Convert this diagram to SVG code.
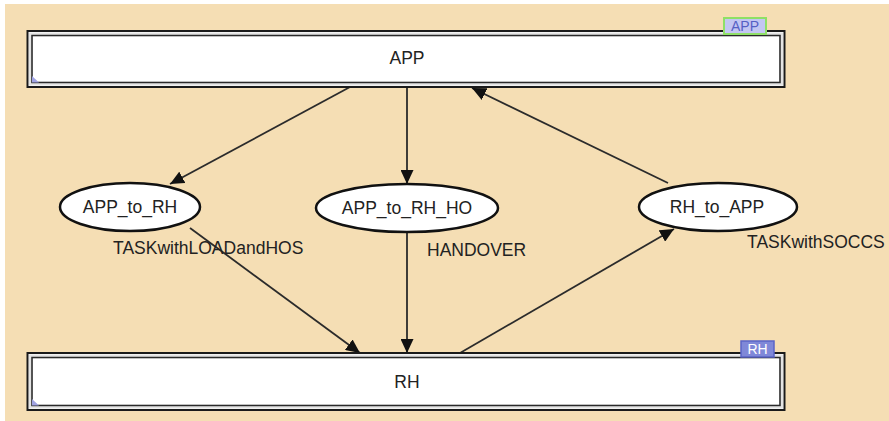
<svg xmlns="http://www.w3.org/2000/svg" width="889" height="421" viewBox="0 0 889 421">
  <style>
    .bg { fill: #F5DEB4; }
    .outer { fill: #ffffff; stroke: #1a1a1a; stroke-width: 2; }
    .gap { fill: none; stroke: #e4e4e4; stroke-width: 2; }
    .inner { fill: #ffffff; stroke: #2a2a2a; stroke-width: 1.6; }
    .corner { fill: #9fa2e2; }
    .place { fill: #ffffff; stroke: #111111; stroke-width: 2.5; }
    .txt { font-family: "Liberation Sans", Arial, sans-serif; font-size: 17.5px; fill: #222222; }
    .mid { text-anchor: middle; }
    .edge { fill: none; stroke: #2b2b2b; stroke-width: 1.8; marker-end: url(#arrow); }
    .tagtxt { font-family: "Liberation Sans", Arial, sans-serif; font-size: 14px; text-anchor: middle; }
  </style>
  <defs>
    <marker id="arrow" markerUnits="userSpaceOnUse" markerWidth="15" markerHeight="13" refX="14" refY="6.5" orient="auto">
      <path d="M0,0 L14,6.5 L0,13 Z" fill="#111111"/>
    </marker>
  </defs>

  <!-- canvas -->
  <rect x="0" y="0" width="889" height="421" fill="#ffffff"/>
  <rect class="bg" x="5" y="4" width="884" height="417"/>

  <!-- connectors -->
  <g id="connectors">
    <line class="edge" x1="350" y1="87" x2="170" y2="184"/>
    <line class="edge" x1="407" y1="87" x2="407" y2="184"/>
    <line class="edge" x1="668" y1="183" x2="472" y2="88"/>
    <line class="edge" x1="190" y1="228" x2="360" y2="353"/>
    <line class="edge" x1="407" y1="232" x2="407" y2="353"/>
    <line class="edge" x1="460" y1="353" x2="674" y2="229"/>
  </g>

  <!-- APP place -->
  <g id="APP">
    <rect class="outer" x="27.5" y="31" width="757" height="56"/>
    <rect class="gap" x="30" y="33.5" width="752" height="51"/>
    <rect class="inner" x="32" y="35.5" width="748" height="47"/>
    <path class="corner" d="M32,82.5 L32,76 L39,82.5 Z"/>
    <text class="txt mid" x="407" y="64">APP</text>
    <rect x="724" y="18" width="42" height="16" fill="#c3c6f2" stroke="#8fe066" stroke-width="2"/>
    <text class="tagtxt" x="745" y="31" fill="#5560c4">APP</text>
  </g>

  <!-- APP_to_RH transition -->
  <g id="APP_to_RH">
    <ellipse class="place" cx="130" cy="207" rx="70" ry="24"/>
    <text class="txt mid" x="130" y="213">APP_to_RH</text>
    <text class="txt" x="113" y="254">TASKwithLOADandHOS</text>
  </g>

  <!-- APP_to_RH_HO transition -->
  <g id="APP_to_RH_HO">
    <ellipse class="place" cx="407" cy="208" rx="91" ry="24"/>
    <text class="txt mid" x="407" y="214">APP_to_RH_HO</text>
    <text class="txt" x="427" y="256">HANDOVER</text>
  </g>

  <!-- RH_to_APP transition -->
  <g id="RH_to_APP">
    <ellipse class="place" cx="718" cy="207" rx="79" ry="24"/>
    <text class="txt mid" x="717" y="213">RH_to_APP</text>
    <text class="txt" x="747" y="248">TASKwithSOCCS</text>
  </g>

  <!-- RH place -->
  <g id="RH">
    <rect class="outer" x="27.5" y="353" width="757" height="57"/>
    <rect class="gap" x="30" y="355.5" width="752" height="52"/>
    <rect class="inner" x="32" y="357.5" width="748" height="48"/>
    <path class="corner" d="M32,405.5 L32,399 L39,405.5 Z"/>
    <text class="txt mid" x="407" y="388">RH</text>
    <rect x="741" y="341" width="33" height="16" fill="#7f88d8" stroke="#5a64c8" stroke-width="1.5"/>
    <text class="tagtxt" x="757.5" y="354" fill="#ffffff">RH</text>
  </g>
</svg>
